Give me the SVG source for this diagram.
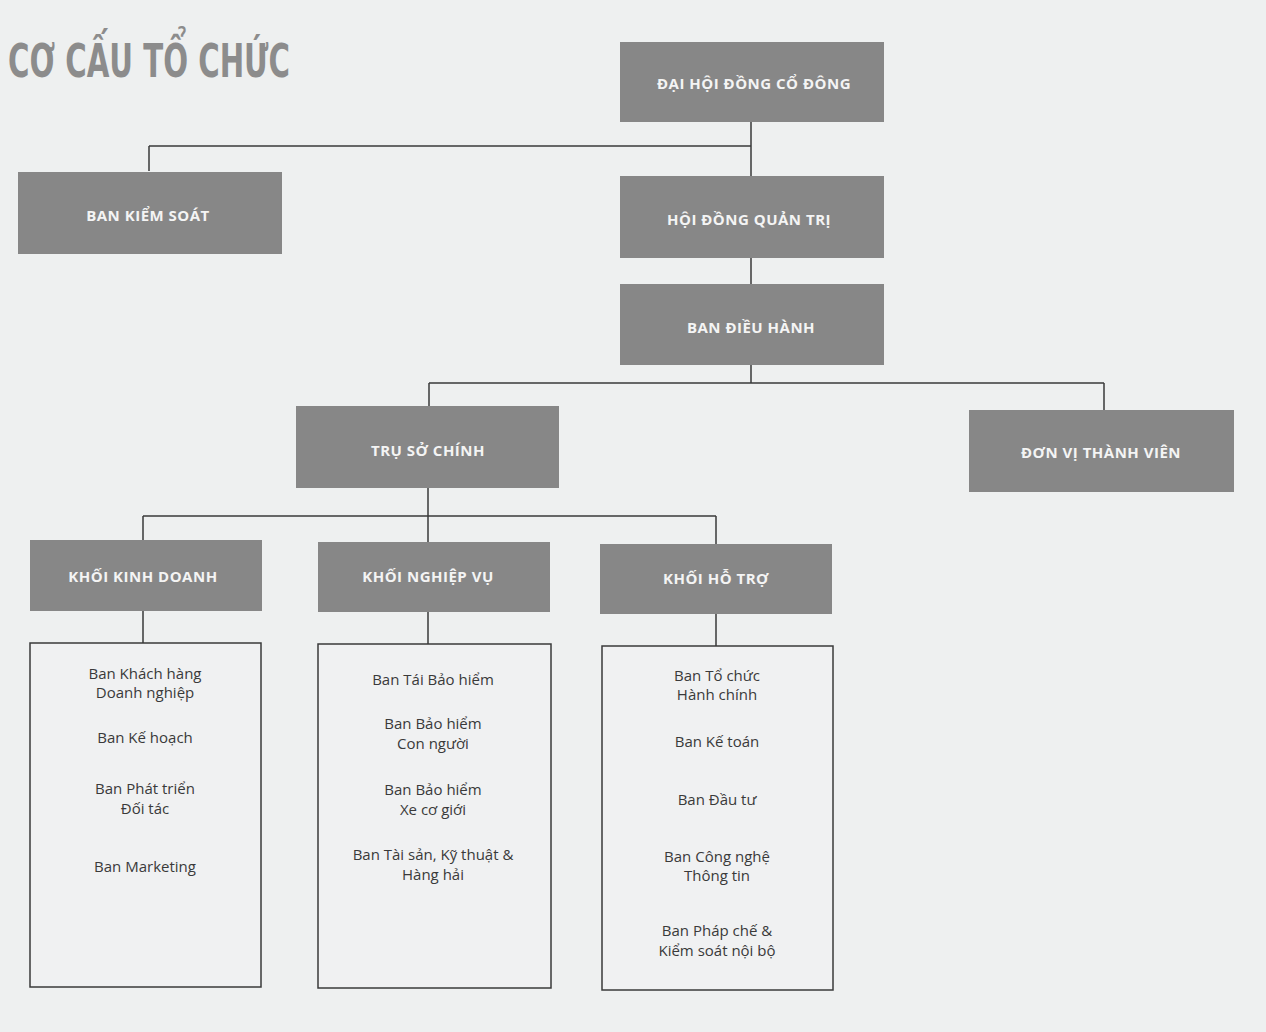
<svg xmlns="http://www.w3.org/2000/svg" width="1266" height="1032" viewBox="0 0 1266 1032">
<style>
.bg{fill:#eef0f0}
.box{fill:#878787}
.lbl{font-family:"Open Sans","Noto Sans","DejaVu Sans",sans-serif;font-size:15px;letter-spacing:0.5px;font-weight:bold;fill:#f4f4f4;text-anchor:middle}
.list{fill:#f0f1f2;stroke:#3a3a3a;stroke-width:1.5}
.item{font-family:"Open Sans","Noto Sans","DejaVu Sans",sans-serif;font-size:15px;fill:#3a3a3a;text-anchor:middle}
.conn{fill:none;stroke:#3a3a3a;stroke-width:1.5}
.title{font-family:"DejaVu Sans","Liberation Sans",sans-serif;font-size:46px;font-weight:bold;fill:#8c8c8c}
</style>
<rect class="bg" x="0" y="0" width="1266" height="1032"/>
<text class="title" x="8" y="77" textLength="282" lengthAdjust="spacingAndGlyphs">CƠ CẤU TỔ CHỨC</text>

<g id="connectors">
  <path class="conn" d="M751 121V176M149 146H751M149 146V171"/>
  <path class="conn" d="M751 258V284"/>
  <path class="conn" d="M751 365V383M429 383H1104M429 383V406M1104 383V410"/>
  <path class="conn" d="M428 488V516M143 516H716M143 516V540M428 516V542M716 516V544"/>
  <path class="conn" d="M143 611V643M428 612V644M716 614V646"/>
</g>

<g id="dai-hoi-dong-co-dong"><rect class="box" x="620" y="42" width="264" height="80"/><text class="lbl" x="754" y="89">ĐẠI HỘI ĐỒNG CỔ ĐÔNG</text></g>
<g id="ban-kiem-soat"><rect class="box" x="18" y="172" width="264" height="82"/><text class="lbl" x="148" y="221">BAN KIỂM SOÁT</text></g>
<g id="hoi-dong-quan-tri"><rect class="box" x="620" y="176" width="264" height="82"/><text class="lbl" x="749" y="225">HỘI ĐỒNG QUẢN TRỊ</text></g>
<g id="ban-dieu-hanh"><rect class="box" x="620" y="284" width="264" height="81"/><text class="lbl" x="751" y="333">BAN ĐIỀU HÀNH</text></g>
<g id="tru-so-chinh"><rect class="box" x="296" y="406" width="263" height="82"/><text class="lbl" x="428" y="456">TRỤ SỞ CHÍNH</text></g>
<g id="don-vi-thanh-vien"><rect class="box" x="969" y="410" width="265" height="82"/><text class="lbl" x="1101" y="458">ĐƠN VỊ THÀNH VIÊN</text></g>
<g id="khoi-kinh-doanh"><rect class="box" x="30" y="540" width="232" height="71"/><text class="lbl" x="143" y="582">KHỐI KINH DOANH</text></g>
<g id="khoi-nghiep-vu"><rect class="box" x="318" y="542" width="232" height="70"/><text class="lbl" x="428" y="582">KHỐI NGHIỆP VỤ</text></g>
<g id="khoi-ho-tro"><rect class="box" x="600" y="544" width="232" height="70"/><text class="lbl" x="716" y="584">KHỐI HỖ TRỢ</text></g>

<g id="list-kinh-doanh">
  <rect class="list" x="30" y="643" width="231" height="344"/>
  <text class="item" x="145" y="679">Ban Khách hàng</text>
  <text class="item" x="145" y="698">Doanh nghiệp</text>
  <text class="item" x="145" y="743">Ban Kế hoạch</text>
  <text class="item" x="145" y="794">Ban Phát triển</text>
  <text class="item" x="145" y="814">Đối tác</text>
  <text class="item" x="145" y="872">Ban Marketing</text>
</g>
<g id="list-nghiep-vu">
  <rect class="list" x="318" y="644" width="233" height="344"/>
  <text class="item" x="433" y="685">Ban Tái Bảo hiểm</text>
  <text class="item" x="433" y="729">Ban Bảo hiểm</text>
  <text class="item" x="433" y="749">Con người</text>
  <text class="item" x="433" y="795">Ban Bảo hiểm</text>
  <text class="item" x="433" y="815">Xe cơ giới</text>
  <text class="item" x="433" y="860">Ban Tài sản, Kỹ thuật &amp;</text>
  <text class="item" x="433" y="880">Hàng hải</text>
</g>
<g id="list-ho-tro">
  <rect class="list" x="602" y="646" width="231" height="344"/>
  <text class="item" x="717" y="681">Ban Tổ chức</text>
  <text class="item" x="717" y="700">Hành chính</text>
  <text class="item" x="717" y="747">Ban Kế toán</text>
  <text class="item" x="717" y="805">Ban Đầu tư</text>
  <text class="item" x="717" y="862">Ban Công nghệ</text>
  <text class="item" x="717" y="881">Thông tin</text>
  <text class="item" x="717" y="936">Ban Pháp chế &amp;</text>
  <text class="item" x="717" y="956">Kiểm soát nội bộ</text>
</g>
</svg>
